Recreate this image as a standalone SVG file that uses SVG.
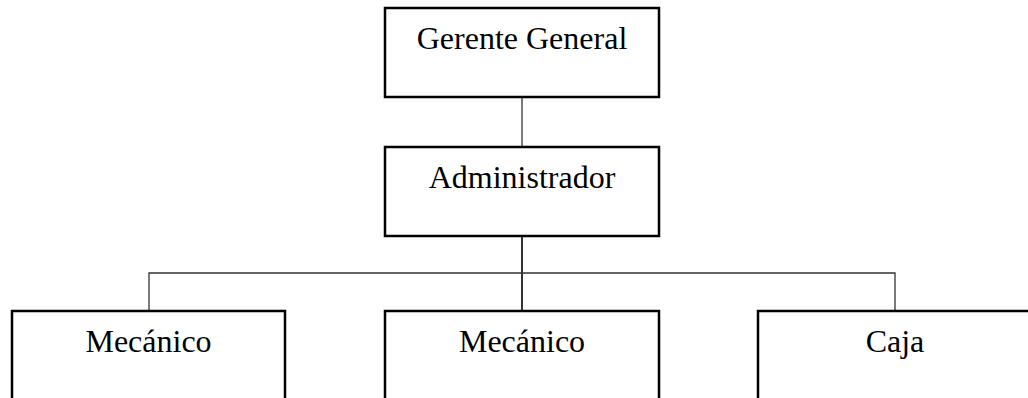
<svg xmlns="http://www.w3.org/2000/svg" width="1028" height="398" viewBox="0 0 1028 398">
<style>
.box{fill:#fff;stroke:#000;stroke-width:2.5}
.lbl{font-family:"Liberation Serif","Times New Roman",serif;font-size:32px;fill:#000;text-anchor:middle}
.conn{stroke:#333;stroke-width:1.3;fill:none}
</style>
<rect width="1028" height="398" fill="#fff"/>
<g id="connectors">
<line class="conn" x1="522" y1="97" x2="522" y2="147"/>
<line class="conn" x1="522" y1="236" x2="522" y2="311" style="stroke:#000;stroke-width:1.6"/>
<polyline class="conn" points="149,311 149,273 895,273 895,311"/>
</g>
<g id="gerente"><rect class="box" x="385" y="8" width="274" height="89"/><text class="lbl" x="522" y="49">Gerente General</text></g>
<g id="administrador"><rect class="box" x="385" y="147" width="274" height="89"/><text class="lbl" x="522" y="188">Administrador</text></g>
<g id="mecanico1"><rect class="box" x="12" y="311" width="273" height="100"/><text class="lbl" x="148.5" y="352">Mecánico</text></g>
<g id="mecanico2"><rect class="box" x="385" y="311" width="274" height="100"/><text class="lbl" x="522" y="352">Mecánico</text></g>
<g id="caja"><rect class="box" x="758" y="311" width="274" height="100"/><text class="lbl" x="895" y="352">Caja</text></g>
</svg>
